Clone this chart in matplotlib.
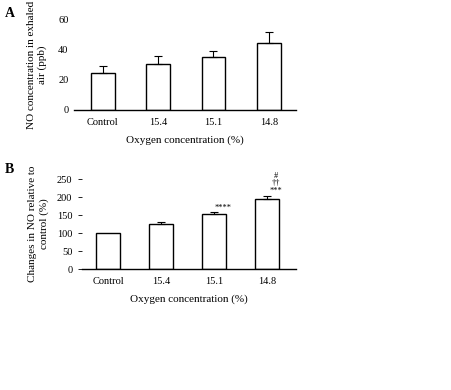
import matplotlib.pyplot as plt
import numpy as np

plt.rcParams['font.family'] = ['Liberation Serif', 'DejaVu Serif']

categories = ['Control', '15.4', '15.1', '14.8']

# panel A: NO concentration in exhaled air (ppb)
no_ppb = [24.5, 30.5, 35.0, 44.5]
no_ppb_err = [5.0, 5.5, 4.5, 7.5]

# panel B: changes relative to control (%)
no_rel = [100, 125, 152, 194]
no_rel_err = [0, 5, 6, 10]
rel_marks = ['', '', '****', '#\n††\n***']

fig = plt.figure(figsize=(4.51, 3.90), dpi=100)

def style_axes(ax, ytick_len):
    for side in ['top', 'right', 'left']:
        ax.spines[side].set_visible(False)
    ax.spines['bottom'].set_linewidth(1.0)
    ax.tick_params(axis='x', length=0, labelsize=7.5, pad=6)
    ax.tick_params(axis='y', length=ytick_len, width=0.6, labelsize=7.5, pad=4)

x = np.arange(len(categories))

# ---- panel A
axA = fig.add_axes([0.164, 0.718, 0.492, 0.231])
axA.bar(x, no_ppb, width=0.43, color='white', edgecolor='black', linewidth=1.0)
axA.errorbar(x, no_ppb, yerr=[np.zeros(4), no_ppb_err], fmt='none',
             ecolor='black', elinewidth=0.8, capsize=3, capthick=0.8)
axA.set_xlim(-0.52, 3.49)
axA.set_ylim(0, 60)
axA.set_yticks([0, 20, 40, 60])
axA.set_xticks(x)
axA.set_xticklabels(categories)
style_axes(axA, 0)
axA.set_xlabel('Oxygen concentration (%)', fontsize=8, labelpad=6)
axA.set_ylabel('NO concentration in exhaled\nair (ppb)', fontsize=8, labelpad=8)
fig.text(0.01, 0.965, 'A', fontsize=10, fontweight='bold', va='center')

# ---- panel B
axB = fig.add_axes([0.182, 0.310, 0.474, 0.231])
axB.bar(x, no_rel, width=0.45, color='white', edgecolor='black', linewidth=1.0)
axB.errorbar(x[1:], no_rel[1:], yerr=[np.zeros(3), no_rel_err[1:]], fmt='none',
             ecolor='black', elinewidth=0.8, capsize=3, capthick=0.8)
for xi, yi, ei, m in zip(x, no_rel, no_rel_err, rel_marks):
    if m:
        axB.text(xi + 0.18, yi + ei + 2, m, fontsize=6, ha='center', va='bottom',
                 linespacing=0.9)
axB.set_xlim(-0.49, 3.55)
axB.set_ylim(0, 250)
axB.set_yticks([0, 50, 100, 150, 200, 250])
axB.set_xticks(x)
axB.set_xticklabels(categories)
style_axes(axB, 3)
axB.set_xlabel('Oxygen concentration (%)', fontsize=8, labelpad=6)
axB.set_ylabel('Changes in NO relative to\ncontrol (%)', fontsize=8, labelpad=6)
fig.text(0.01, 0.565, 'B', fontsize=10, fontweight='bold', va='center')

plt.savefig('out.png', dpi=100)
